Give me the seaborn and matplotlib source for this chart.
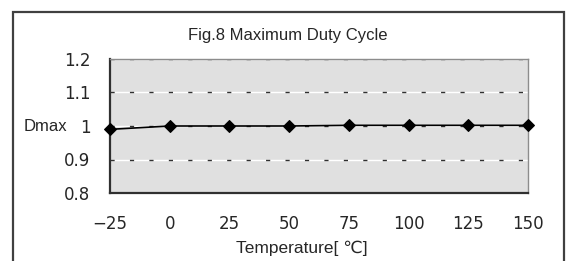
import numpy as np
import pandas as pd
import matplotlib
matplotlib.use('Agg')
import matplotlib.pyplot as plt
import seaborn as sns
from matplotlib.patches import Rectangle

# Data
temperature = [-25, 0, 25, 50, 75, 100, 125, 150]
dmax = [0.99, 1.0, 1.0, 1.0, 1.002, 1.002, 1.002, 1.002]
y_ticks = [0.8, 0.9, 1.0, 1.1, 1.2]
y_tick_labels = ['0.8', '0.9', '1', '1.1', '1.2']

df = pd.DataFrame({'Temperature': temperature, 'Dmax': dmax})

sns.set_style('white')
plt.rcParams['font.family'] = ['Liberation Sans', 'DejaVu Sans']
plt.rcParams['font.size'] = 11

fig = plt.figure(figsize=(5.66, 2.61), dpi=100)
W, H = 566, 261

# outer chart frame
fig.patches.append(Rectangle((13 / W, -0.1), (564 - 13) / W, 1.1 - 12 / H,
                             transform=fig.transFigure, fill=False,
                             edgecolor='#404040', lw=1.6, zorder=0))

ax = fig.add_axes([110 / W, 1 - 193 / H, (528 - 110) / W, (193 - 59) / H])
ax.set_facecolor('#e0e0e0')

# gridlines: white line with short dark dashes
for yv in y_ticks[1:]:
    ax.axhline(yv, color='white', lw=1.0, zorder=1)
    ax.axhline(yv, color='#303030', lw=1.0, dashes=(3, 11), zorder=1.5)

sns.lineplot(data=df, x='Temperature', y='Dmax', ax=ax, color='black', lw=1.2,
             marker='D', markersize=6, markeredgecolor='black', zorder=3,
             clip_on=False)

ax.set_xlim(-25, 150)
ax.set_ylim(0.8, 1.2)
ax.set_xticks(temperature)
ax.set_xticklabels(['\u221225' if t < 0 else str(t) for t in temperature])
ax.set_yticks(y_ticks)
ax.set_yticklabels(y_tick_labels)
ax.tick_params(axis='x', direction='in', length=6, width=1, color='#303030',
               pad=16, labelsize=12)
ax.tick_params(axis='y', direction='out', length=3, width=1, color='#303030',
               pad=11, labelsize=12)
for lbl in ax.get_xticklabels() + ax.get_yticklabels():
    lbl.set_fontfamily(['DejaVu Sans'])
ax.set_xlabel('')
ax.set_ylabel('')

for s in ['left', 'bottom']:
    ax.spines[s].set_color('#303030')
    ax.spines[s].set_linewidth(1.6)
for s in ['top', 'right']:
    ax.spines[s].set_color('#8c8c8c')
    ax.spines[s].set_linewidth(1.0)

fig.text(288 / W, 1 - 40 / H, 'Fig.8 Maximum Duty Cycle', ha='center',
         va='baseline', fontsize=12)
fig.text(45 / W, 1 - 126 / H, 'Dmax', ha='center', va='center', fontsize=12)
fig.text(302 / W, 1 - 253 / H, 'Temperature[ \u2103]', ha='center',
         va='baseline', fontsize=12.5)

fig.savefig('out.png', dpi=100)
